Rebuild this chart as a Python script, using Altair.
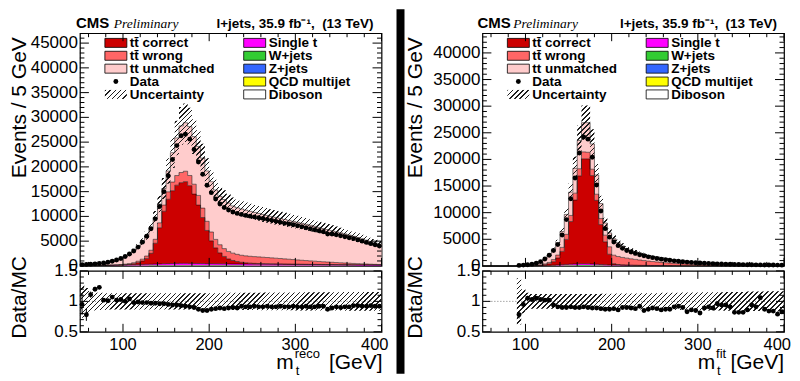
import math
import altair as alt
import pandas as pd

# ---------------------------------------------------------------- binning / labels
BIN_LO = list(range(50, 400, 5))          # 70 bins, 5 GeV wide
X_MIN, X_MAX = 50, 400
N = len(BIN_LO)

COMPONENTS = ["Diboson", "QCD multijet", "Z+jets", "W+jets", "Single t",
              "tt correct", "tt wrong", "tt unmatched"]
COMP_COLORS = ["#FFFFFF", "#FFFF00", "#3366FF", "#33CC33", "#FF00FF",
               "#CC0000", "#FF6666", "#FFCCCC"]

LEGEND_LABELS = ["tt\u0304 correct", "tt\u0304 wrong", "tt unmatched", "Data", "Uncertainty",
                 "Single t", "W+jets", "Z+jets", "QCD multijet", "Diboson"]
LEGEND_FILLS = ["#CC0000", "#FF6666", "#FFCCCC", "", "",
                "#FF00FF", "#33CC33", "#3366FF", "#FFFF00", "#FFFFFF"]

X_LABELS = [100, 200, 300, 400]
X_LABEL_TEXT = ["100", "200", "300", "400"]
X_MINOR = [60, 80, 120, 140, 160, 180, 220, 240, 260, 280, 320, 340, 360, 380]
R_LABELS = [0.5, 1.0, 1.5]
R_LABEL_TEXT = ["0.5", "1", "1.5"]
R_MINOR = [0.6, 0.7, 0.8, 0.9, 1.1, 1.2, 1.3, 1.4]
L_Y_LABELS = [0, 5000, 10000, 15000, 20000, 25000, 30000, 35000, 40000, 45000]
R_Y_LABELS = [0, 5000, 10000, 15000, 20000, 25000, 30000, 35000, 40000]

# ---------------------------------------------------------------- left panel (m_t^reco)
L_DATA = [250, 300, 350, 420, 500, 600, 750, 950, 1200, 1500,
          1900, 2400, 3000, 3800, 4800, 6000, 7500, 9500, 12000, 15000,
          18200, 21500, 24300, 26300, 26600, 25600, 23500, 21000, 18500, 16300,
          14800, 13500, 12500, 11800, 11300, 10900, 10600, 10400, 10200, 10050,
          9900, 9750, 9600, 9400, 9200, 9000, 8800, 8600, 8450, 8300,
          8100, 7900, 7700, 7500, 7300, 7100, 6900, 6450, 6450, 6300,
          6100, 5900, 5700, 5500, 5250, 5000, 4750, 4500, 4250, 4000]
L_TOTAL = [280, 320, 340, 370, 420, 560, 720, 900, 1170, 1460,
           1900, 2310, 3060, 3840, 4900, 6120, 7730, 9790, 12500, 15630,
           19160, 22870, 25850, 28280, 28910, 28130, 26110, 24140, 21760, 19180,
           17010, 15340, 14040, 13410, 12700, 12110, 11750, 11500, 11250, 11020,
           10800, 10600, 10400, 10200, 10000, 9800, 9600, 9400, 9200, 9000,
           8800, 8600, 8400, 8200, 8000, 7780, 7560, 7340, 7120, 6900,
           6680, 6460, 6230, 5980, 5730, 5470, 5200, 4930, 4650, 4380]
L_RED = [0, 0, 0, 0, 0, 5, 10, 15, 20, 30,
         50, 100, 200, 400, 700, 1200, 2200, 4200, 7300, 10600,
         13000, 14700, 15800, 16300, 16500, 15700, 14000, 11800, 9300, 6700,
         4600, 3200, 2200, 1500, 1000, 700, 500, 350, 260, 200,
         160, 140, 120, 110, 100, 90, 85, 80, 75, 70,
         65, 60, 55, 50, 48, 45, 42, 40, 38, 35,
         33, 30, 28, 26, 24, 22, 20, 18, 16, 15]
L_WRONG = [5, 8, 10, 15, 20, 30, 40, 60, 80, 100,
           130, 170, 220, 290, 380, 480, 620, 800, 1000, 1250,
           1500, 1750, 1950, 2050, 2100, 2050, 2000, 1950, 1900, 1850,
           1800, 1720, 1650, 1580, 1520, 1480, 1450, 1420, 1400, 1380,
           1360, 1330, 1290, 1250, 1200, 1150, 1100, 1040, 980, 920,
           860, 800, 750, 700, 650, 600, 550, 500, 460, 420,
           380, 340, 300, 270, 240, 210, 180, 150, 130, 110]
L_SINGLE_T = [20, 25, 30, 35, 40, 45, 55, 65, 75, 90,
              105, 120, 140, 160, 180, 205, 225, 250, 275, 300,
              320, 340, 355, 365, 370, 365, 355, 345, 335, 325,
              315, 305, 298, 290, 284, 279, 273, 268, 263, 259,
              255, 250, 246, 241, 236, 231, 226, 221, 216, 211,
              206, 201, 196, 191, 186, 181, 176, 171, 166, 161,
              156, 151, 146, 141, 136, 131, 126, 121, 116, 112]
L_WJETS = [10, 12, 14, 16, 18, 20, 24, 28, 32, 36,
           40, 45, 50, 55, 60, 65, 70, 75, 80, 85,
           90, 92, 94, 95, 95, 94, 92, 90, 88, 86,
           84, 82, 80, 78, 76, 74, 72, 70, 68, 66,
           64, 62, 60, 58, 57, 56, 55, 54, 53, 52,
           51, 50, 49, 48, 47, 46, 45, 44, 43, 42,
           41, 40, 39, 38, 37, 36, 35, 34, 33, 32]
L_ZJETS = [4, 5, 5, 6, 6, 7, 8, 9, 10, 11,
           12, 13, 14, 15, 16, 17, 18, 19, 20, 21,
           22, 22, 23, 23, 23, 22, 22, 21, 21, 20,
           20, 19, 19, 18, 18, 17, 17, 16, 16, 15,
           15, 15, 14, 14, 14, 13, 13, 13, 12, 12,
           12, 11, 11, 11, 11, 10, 10, 10, 10, 9,
           9, 9, 9, 8, 8, 8, 8, 8, 7, 7]
L_QCD = [8, 8, 9, 9, 10, 10, 11, 12, 13, 14,
         15, 16, 17, 18, 19, 20, 21, 22, 23, 24,
         25, 25, 26, 26, 26, 25, 25, 24, 24, 23,
         23, 22, 22, 21, 21, 20, 20, 19, 19, 18,
         18, 17, 17, 17, 16, 16, 16, 15, 15, 15,
         14, 14, 14, 13, 13, 13, 12, 12, 12, 12,
         11, 11, 11, 11, 10, 10, 10, 10, 10, 9]
L_DIBOSON = [1, 1, 1, 1, 1, 1, 1, 2, 2, 2,
             2, 2, 3, 3, 3, 3, 4, 4, 4, 4,
             4, 5, 5, 5, 5, 5, 5, 5, 5, 5,
             5, 5, 5, 4, 4, 4, 4, 4, 4, 4,
             4, 4, 4, 4, 3, 3, 3, 3, 3, 3,
             3, 3, 3, 3, 3, 3, 3, 2, 2, 2,
             2, 2, 2, 2, 2, 2, 2, 2, 2, 2]
L_UNC = [0.27, 0.22, 0.17, 0.15, 0.14, 0.14, 0.135, 0.135, 0.135, 0.135,
         0.135, 0.135, 0.135, 0.135, 0.135, 0.135, 0.135, 0.135, 0.135, 0.135,
         0.135, 0.135, 0.135, 0.135, 0.135, 0.135, 0.135, 0.135, 0.135, 0.135,
         0.135, 0.135, 0.135, 0.14, 0.14, 0.14, 0.14, 0.14, 0.14, 0.14,
         0.14, 0.14, 0.145, 0.145, 0.145, 0.145, 0.145, 0.145, 0.145, 0.145,
         0.15, 0.15, 0.15, 0.15, 0.15, 0.15, 0.15, 0.15, 0.15, 0.15,
         0.15, 0.155, 0.155, 0.155, 0.155, 0.155, 0.155, 0.155, 0.155, 0.155]
L_RATIO = [0.95, 0.78, 1.11, 1.20, 1.23, 1.02, 1.01, 1.07, 1.02, 1.03,
           1.00, 1.04, 0.98, 0.99, 0.98, 0.98, 0.97, 0.97, 0.96, 0.96,
           0.95, 0.94, 0.94, 0.93, 0.92, 0.91, 0.90, 0.87, 0.85, 0.85,
           0.87, 0.88, 0.89, 0.88, 0.89, 0.90, 0.89, 0.92, 0.91, 0.91,
           0.92, 0.91, 0.91, 0.92, 0.91, 0.91, 0.92, 0.91, 0.91, 0.92,
           0.91, 0.91, 0.92, 0.91, 0.91, 0.92, 0.92, 0.87, 0.89, 0.91,
           0.90, 0.91, 0.91, 0.93, 0.93, 0.92, 0.92, 0.93, 0.92, 0.92]
L_RATIO_ERR = [0.17, 0.10, 0.05, 0.04, 0.03, 0.03, 0.02, 0.02, 0.02, 0.015,
               0.01, 0.01, 0.01, 0.01, 0.01, 0.01, 0.01, 0.01, 0.01, 0.01,
               0.01, 0.01, 0.01, 0.01, 0.01, 0.01, 0.01, 0.01, 0.01, 0.01,
               0.01, 0.01, 0.01, 0.01, 0.01, 0.01, 0.01, 0.01, 0.01, 0.01,
               0.01, 0.01, 0.01, 0.01, 0.01, 0.01, 0.01, 0.01, 0.01, 0.01,
               0.01, 0.01, 0.01, 0.01, 0.01, 0.01, 0.01, 0.01, 0.01, 0.01,
               0.01, 0.01, 0.01, 0.01, 0.01, 0.01, 0.01, 0.01, 0.01, 0.01]

# ---------------------------------------------------------------- right panel (m_t^fit)
R_DATA = [None, None, None, None, None, None, None, None,
          100, 150, 220, 330, 500, 800, 1300, 2000, 2900, 4000,
          5800, 8700, 12600, 16500, 21200, 24200, 23800, 20400, 15200, 10300,
          7000, 5400, 4500, 3800, 3300, 2900, 2600, 2350, 2100, 1900,
          1700, 1550, 1400, 1270, 1150, 1050, 950, 870, 790, 720,
          660, 600, 550, 500, 460, 420, 390, 360, 330, 305,
          285, 265, 245, 230, 215, 200, 190, 180, 170, 160,
          150, 140]
R_TOTAL = [0, 0, 0, 0, 0, 0, 0, 0,
           130, 160, 210, 320, 480, 780, 1270, 1960, 3080, 4400,
           6450, 9670, 13850, 18330, 23560, 26900, 26900, 22900, 17080, 11700,
           8050, 6200, 5100, 4350, 3750, 3280, 2930, 2640, 2390, 2170,
           1970, 1790, 1630, 1490, 1360, 1240, 1130, 1030, 940, 860,
           790, 720, 660, 610, 560, 515, 475, 440, 405, 375,
           350, 325, 300, 280, 262, 245, 230, 215, 202, 190,
           180, 170]
R_RED = [0, 0, 0, 0, 0, 0, 0, 0,
         0, 0, 5, 10, 25, 60, 150, 300, 650, 1300,
         2500, 4700, 8000, 12000, 16500, 19700, 19700, 16600, 12000, 7500,
         4300, 2000, 250, 120, 60, 40, 30, 25, 20, 18,
         16, 14, 12, 10, 9, 8, 7, 6, 5, 5,
         4, 4, 4, 3, 3, 3, 3, 2, 2, 2,
         2, 2, 2, 1, 1, 1, 1, 1, 1, 1,
         1, 1]
R_WRONG = [0, 0, 0, 0, 0, 0, 0, 0,
           10, 15, 25, 40, 60, 100, 160, 250, 400, 550,
           750, 950, 1150, 1300, 1350, 1300, 1250, 1200, 1150, 1150,
           1250, 1400, 1600, 1500, 1400, 1300, 1200, 1100, 1000, 900,
           820, 740, 670, 600, 540, 480, 430, 385, 345, 310,
           275, 245, 220, 195, 175, 155, 140, 125, 112, 100,
           90, 80, 72, 65, 58, 52, 47, 42, 38, 34,
           31, 28]
R_SINGLE_T = [0, 0, 0, 0, 0, 0, 0, 0,
              5, 6, 8, 12, 18, 28, 40, 60, 85, 110,
              140, 170, 200, 225, 245, 250, 240, 220, 190, 160,
              135, 115, 100, 90, 80, 72, 65, 59, 54, 49,
              45, 41, 38, 35, 32, 29, 27, 25, 23, 21,
              19, 18, 17, 16, 15, 14, 13, 12, 11, 10,
              10, 9, 9, 8, 8, 7, 7, 6, 6, 6,
              5, 5]
R_WJETS = [0, 0, 0, 0, 0, 0, 0, 0,
           2, 2, 3, 5, 7, 11, 16, 24, 34, 44,
           56, 68, 80, 90, 98, 100, 96, 88, 76, 64,
           54, 46, 40, 36, 32, 29, 26, 24, 22, 20,
           18, 16, 15, 14, 13, 12, 11, 10, 9, 9,
           8, 8, 7, 7, 6, 6, 6, 5, 5, 5,
           4, 4, 4, 4, 3, 3, 3, 3, 3, 3,
           2, 2]
R_ZJETS = [0, 0, 0, 0, 0, 0, 0, 0,
           1, 1, 1, 1, 2, 3, 4, 6, 8, 11,
           14, 17, 20, 22, 24, 25, 24, 22, 19, 16,
           13, 11, 10, 9, 8, 7, 6, 6, 5, 5,
           4, 4, 4, 3, 3, 3, 3, 2, 2, 2,
           2, 2, 2, 2, 1, 1, 1, 1, 1, 1,
           1, 1, 1, 1, 1, 1, 1, 1, 1, 1,
           1, 1]
R_QCD = [0, 0, 0, 0, 0, 0, 0, 0,
         1, 1, 2, 2, 3, 4, 6, 8, 10, 13,
         16, 19, 22, 24, 26, 27, 26, 24, 21, 18,
         15, 13, 11, 10, 9, 8, 7, 6, 6, 5,
         5, 4, 4, 4, 3, 3, 3, 3, 2, 2,
         2, 2, 2, 2, 2, 2, 1, 1, 1, 1,
         1, 1, 1, 1, 1, 1, 1, 1, 1, 1,
         1, 1]
R_DIBOSON = [0, 0, 0, 0, 0, 0, 0, 0,
             0, 0, 0, 0, 0, 1, 1, 1, 2, 2,
             3, 3, 4, 4, 5, 5, 5, 4, 4, 3,
             3, 2, 2, 2, 2, 1, 1, 1, 1, 1,
             1, 1, 1, 1, 1, 1, 1, 1, 1, 1,
             0, 0, 0, 0, 0, 0, 0, 0, 0, 0,
             0, 0, 0, 0, 0, 0, 0, 0, 0, 0,
             0, 0]
R_UNC = [0, 0, 0, 0, 0, 0, 0, 0,
         0.38, 0.20, 0.14, 0.12, 0.12, 0.12, 0.12, 0.12, 0.12, 0.12,
         0.12, 0.12, 0.12, 0.12, 0.12, 0.12, 0.12, 0.12, 0.12, 0.125,
         0.125, 0.125, 0.125, 0.13, 0.13, 0.13, 0.13, 0.13, 0.135, 0.135,
         0.135, 0.135, 0.135, 0.14, 0.14, 0.14, 0.14, 0.14, 0.145, 0.145,
         0.145, 0.145, 0.145, 0.15, 0.15, 0.15, 0.15, 0.15, 0.155, 0.155,
         0.155, 0.155, 0.155, 0.16, 0.16, 0.16, 0.16, 0.16, 0.165, 0.165,
         0.165, 0.165]
R_RATIO = [None, None, None, None, None, None, None, None,
           0.78, 0.95, 1.05, 1.03, 1.05, 1.03, 1.02, 1.02, 0.94, 0.91,
           0.90, 0.90, 0.91, 0.90, 0.90, 0.91, 0.90, 0.89, 0.89, 0.88,
           0.87, 0.87, 0.88, 0.86, 0.90, 0.90, 0.89, 0.88, 0.92, 0.85,
           0.87, 0.89, 0.88, 0.86, 0.87, 0.87, 0.91, 0.92, 0.90, 0.83,
           0.86, 0.85, 0.81, 0.89, 0.91, 0.89, 0.96, 0.94, 0.94, 0.91,
           0.82, 0.82, 0.82, 0.86, 0.94, 0.91, 1.06, 0.87, 0.84, 0.84,
           0.79, 0.83]
R_RATIO_ERR = [0, 0, 0, 0, 0, 0, 0, 0,
               0.06, 0.05, 0.04, 0.03, 0.02, 0.02, 0.01, 0.01, 0.01, 0.01,
               0.01, 0.01, 0.01, 0.01, 0.01, 0.01, 0.01, 0.01, 0.01, 0.01,
               0.01, 0.01, 0.01, 0.01, 0.01, 0.01, 0.01, 0.01, 0.01, 0.01,
               0.01, 0.01, 0.01, 0.01, 0.01, 0.01, 0.01, 0.01, 0.01, 0.01,
               0.01, 0.01, 0.01, 0.01, 0.01, 0.01, 0.01, 0.01, 0.01, 0.01,
               0.01, 0.01, 0.01, 0.01, 0.01, 0.01, 0.01, 0.01, 0.01, 0.01,
               0.01, 0.01]

for arr in [L_DATA, L_TOTAL, L_RED, L_WRONG, L_SINGLE_T, L_WJETS, L_ZJETS, L_QCD, L_DIBOSON,
            L_UNC, L_RATIO, L_RATIO_ERR, R_DATA, R_TOTAL, R_RED, R_WRONG, R_SINGLE_T, R_WJETS,
            R_ZJETS, R_QCD, R_DIBOSON, R_UNC, R_RATIO, R_RATIO_ERR]:
    assert len(arr) == N, len(arr)

# ---------------------------------------------------------------- styling
FONT = "Liberation Sans"
W = 302
H_TOP = 233
H_RAT = 61
XS = alt.Scale(domain=[X_MIN, X_MAX], nice=False, zero=False)
RS = alt.Scale(domain=[0.5, 1.5], nice=False, zero=False)


def hatch(w, h, spacing=3.5, lw=1.0, color="#1e1e1e"):
    """Linear gradient made of hard stops -> '////' hatching over a box w x h px."""
    r = h / w
    c = (1 + r) / (1 + r * r)
    n = max(1, int(round((w + h) / (spacing * math.sqrt(2)))))
    f = lw / spacing
    clear = "rgba(255,255,255,0)"
    stops = []
    for i in range(n):
        a, b, e = i / n, (i + f) / n, (i + 1) / n
        stops += [alt.GradientStop(offset=round(a, 6), color=color),
                  alt.GradientStop(offset=round(b, 6), color=color),
                  alt.GradientStop(offset=round(b, 6), color=clear),
                  alt.GradientStop(offset=round(e, 6), color=clear)]
    return alt.LinearGradient(gradient="linear", stops=stops, x1=0, y1=0, x2=c, y2=c * r)


def one(text=""):
    return alt.Chart(pd.DataFrame({"t": [text]}))


def label(s, x, y, size, align="left", weight="normal", style="normal", font=FONT,
          baseline="alphabetic", angle=0):
    return one(s).mark_text(align=align, baseline=baseline, fontSize=size, fontWeight=weight,
                            fontStyle=style, font=font, color="black", angle=angle).encode(
        text="t:N", x=alt.value(x), y=alt.value(y))


def xticks(height, major, minor, lmaj=8, lmin=4):
    out = []
    for vals, L in ((major, lmaj), (minor, lmin)):
        base = alt.Chart(pd.DataFrame({"v": vals})).mark_rule(color="black", strokeWidth=1)
        out.append(base.encode(x=alt.X("v:Q", scale=XS, axis=None, title=None),
                               y=alt.value(height), y2=alt.value(height - L)))
        out.append(base.encode(x=alt.X("v:Q", scale=XS, axis=None, title=None),
                               y=alt.value(0), y2=alt.value(L)))
    return out


def yticks(scale, major, minor, lmaj=9, lmin=4.5):
    out = []
    for vals, L in ((major, lmaj), (minor, lmin)):
        base = alt.Chart(pd.DataFrame({"v": vals})).mark_rule(color="black", strokeWidth=1)
        out.append(base.encode(y=alt.Y("v:Q", scale=scale, axis=None, title=None),
                               x=alt.value(0), x2=alt.value(L)))
        out.append(base.encode(y=alt.Y("v:Q", scale=scale, axis=None, title=None),
                               x=alt.value(W), x2=alt.value(W - L)))
    return out


def ylabels(scale, vals, texts, size=17):
    df = pd.DataFrame({"v": vals, "s": texts})
    return alt.Chart(df).mark_text(align="right", baseline="middle", fontSize=size, font=FONT,
                                   color="black").encode(
        y=alt.Y("v:Q", scale=scale, axis=None, title=None), x=alt.value(-2), text="s:N")


def xlabels(size=16.5):
    df = pd.DataFrame({"v": X_LABELS, "s": X_LABEL_TEXT})
    inner = alt.Chart(df.iloc[:-1]).mark_text(align="center", baseline="top", fontSize=size, font=FONT,
                                              color="black").encode(
        x=alt.X("v:Q", scale=XS, axis=None, title=None), y=alt.value(H_RAT + 5), text="s:N")
    last = alt.Chart(df.iloc[-1:]).mark_text(align="right", baseline="top", fontSize=size, font=FONT,
                                             color="black", dx=7).encode(
        x=alt.X("v:Q", scale=XS, axis=None, title=None), y=alt.value(H_RAT + 5), text="s:N")
    return [inner, last]


def legend_layers(col_x):
    bw, bh = 22, 9
    rows = []
    for i, (lab, fill) in enumerate(zip(LEGEND_LABELS, LEGEND_FILLS)):
        col, row = divmod(i, 5)
        cy = 9.7 + 12.9 * row
        x0 = col_x[col]
        rows.append({"lab": lab, "fill": fill, "x0": x0, "x1": x0 + bw, "y0": cy - bh / 2,
                     "y1": cy + bh / 2, "tx": x0 + bw + 3, "ty": cy + 0.5, "cx": x0 + bw / 2, "cy": cy})
    df = pd.DataFrame(rows)
    boxes = alt.Chart(df[df["fill"] != ""]).mark_rect(stroke="black", strokeWidth=0.8, opacity=1).encode(
        x=alt.X("x0:Q", scale=None, axis=None), x2="x1:Q",
        y=alt.Y("y0:Q", scale=None, axis=None), y2="y1:Q",
        fill=alt.Fill("fill:N", scale=None))
    texts = alt.Chart(df).mark_text(align="left", baseline="middle", fontSize=13.5, fontWeight="bold",
                                    font=FONT, color="black").encode(
        x=alt.X("tx:Q", scale=None, axis=None), y=alt.Y("ty:Q", scale=None, axis=None), text="lab:N")
    d = df[df["lab"] == "Data"].iloc[0]
    u = df[df["lab"] == "Uncertainty"].iloc[0]
    dot = one().mark_circle(size=24, color="black", opacity=1).encode(
        x=alt.value(float(d["cx"])), y=alt.value(float(d["cy"])))
    hat = one().mark_rect(fill=hatch(bw, bh), opacity=1, strokeWidth=0).encode(
        x=alt.value(float(u["x0"])), x2=alt.value(float(u["x1"])),
        y=alt.value(float(u["y0"])), y2=alt.value(float(u["y1"])))
    return [boxes, hat, dot, texts]


def panel(p):
    ys = alt.Scale(domain=[0, p["ymax"]], nice=False, zero=False)
    others = [p["diboson"], p["qcd"], p["zjets"], p["wjets"], p["single_t"], p["red"], p["wrong"]]
    unmatched = [max(0.0, t - sum(o[i] for o in others)) for i, t in enumerate(p["total"])]
    series = others + [unmatched]

    rows, base = [], [0.0] * N
    for name, vals in zip(COMPONENTS, series):
        top = [b + v for b, v in zip(base, vals)]
        for x, b, t in zip(BIN_LO + [X_MAX], base + [base[-1]], top + [top[-1]]):
            rows.append({"x": x, "base": b, "top": t, "comp": name})
        base = top
    sdf = pd.DataFrame(rows)

    areas = alt.Chart(sdf).mark_area(interpolate="step-after", opacity=1, strokeWidth=0).encode(
        x=alt.X("x:Q", scale=XS, axis=None, title=None),
        y=alt.Y("base:Q", scale=ys, axis=None, title=None, stack=None),
        y2="top:Q",
        color=alt.Color("comp:N", scale=alt.Scale(domain=COMPONENTS, range=COMP_COLORS), legend=None))
    outlines = alt.Chart(sdf[sdf["comp"].isin(["tt correct", "tt wrong", "tt unmatched", "Single t"])]).mark_line(
        interpolate="step-after", color="black", strokeWidth=0.6, opacity=0.85).encode(
        x=alt.X("x:Q", scale=XS, axis=None, title=None),
        y=alt.Y("top:Q", scale=ys, axis=None, title=None), detail="comp:N")

    idx = [i for i in range(N) if p["total"][i] > 0]
    bx = [BIN_LO[i] for i in idx] + [X_MAX]
    lo = [p["total"][i] * (1 - p["unc"][i]) for i in idx]
    hi = [p["total"][i] * (1 + p["unc"][i]) for i in idx]
    bdf = pd.DataFrame({"x": bx, "lo": lo + [lo[-1]], "hi": hi + [hi[-1]]})
    bw = W * (bx[-1] - bx[0]) / (X_MAX - X_MIN)
    bh = H_TOP * (max(hi) - min(lo)) / p["ymax"]
    band = alt.Chart(bdf).mark_area(interpolate="step-after", fill=hatch(bw, bh), opacity=1,
                                    strokeWidth=0).encode(
        x=alt.X("x:Q", scale=XS, axis=None, title=None),
        y=alt.Y("lo:Q", scale=ys, axis=None, title=None), y2="hi:Q")

    ddf = pd.DataFrame({"xc": [b + 2.5 for b in BIN_LO], "d": p["data"]}).dropna()
    points = alt.Chart(ddf).mark_circle(size=24, color="black", opacity=1).encode(
        x=alt.X("xc:Q", scale=XS, axis=None, title=None),
        y=alt.Y("d:Q", scale=ys, axis=None, title=None))

    ymin_minor = [v for v in range(1000, int(p["ymax"]), 1000) if v % 5000]
    header = [
        label("CMS", p["cms_x"], -5, 15, weight="bold"),
        label("Preliminary", p["prelim_x"], -5, 13.5, style="italic", font="Liberation Serif"),
        label("l+jets, 35.9 fb\u207b\u00b9,\u00a0 (13 TeV)", p["lumi_x"], -5, 13.5, align="right",
              weight="bold"),
    ]
    ytitle = label("Events / 5 GeV", p["ytitle_x"], 4, 21, align="right", angle=270)
    extra = p.get("extra_top", [])
    top_layers = ([areas, outlines, band, points] + legend_layers(p["legend_x"]) + header
                  + [ylabels(ys, p["ylabels"], [str(v) for v in p["ylabels"]]), ytitle]
                  + xticks(H_TOP, X_LABELS, X_MINOR)
                  + yticks(ys, [v for v in p["ylabels"] if v > 0], ymin_minor) + extra)
    top = alt.layer(*top_layers).properties(width=W, height=H_TOP)

    # ---------------- ratio
    ridx = [i for i in range(N) if p["total"][i] > 0]
    rbx = [BIN_LO[i] for i in ridx] + [X_MAX]
    rlo = [1 - p["unc"][i] for i in ridx]
    rhi = [1 + p["unc"][i] for i in ridx]
    rbdf = pd.DataFrame({"x": rbx, "rlo": rlo + [rlo[-1]], "rhi": rhi + [rhi[-1]]})
    rbw = W * (rbx[-1] - rbx[0]) / (X_MAX - X_MIN)
    rbh = H_RAT * (max(rhi) - min(rlo)) / 1.0
    unity = alt.Chart(pd.DataFrame({"one": [1.0]})).mark_rule(color="#777777", strokeDash=[1, 2],
                                                              strokeWidth=1).encode(
        y=alt.Y("one:Q", scale=RS, axis=None, title=None), x=alt.value(0), x2=alt.value(W))
    rband = alt.Chart(rbdf).mark_area(interpolate="step-after", fill=hatch(rbw, rbh), opacity=1,
                                      strokeWidth=0).encode(
        x=alt.X("x:Q", scale=XS, axis=None, title=None),
        y=alt.Y("rlo:Q", scale=RS, axis=None, title=None), y2="rhi:Q")
    rdf = pd.DataFrame({"xc": [b + 2.5 for b in BIN_LO], "r": p["ratio"], "e": p["ratio_err"]}).dropna()
    rdf["elo"] = rdf["r"] - rdf["e"]
    rdf["ehi"] = rdf["r"] + rdf["e"]
    rerr = alt.Chart(rdf[rdf["e"] >= 0.02]).mark_rule(color="black", strokeWidth=1).encode(
        x=alt.X("xc:Q", scale=XS, axis=None, title=None),
        y=alt.Y("elo:Q", scale=RS, axis=None, title=None), y2="ehi:Q")
    rpts = alt.Chart(rdf).mark_circle(size=24, color="black", opacity=1).encode(
        x=alt.X("xc:Q", scale=XS, axis=None, title=None),
        y=alt.Y("r:Q", scale=RS, axis=None, title=None))
    xtitle = [
        label("m", p["m_right"], H_RAT + 37.5, 21, align="right"),
        label(p["sup"], p["m_right"] + 1, H_RAT + 26, 13),
        label("t", p["m_right"] + 2, H_RAT + 43, 13),
        label("[GeV]", p["unit_right"], H_RAT + 37.5, 21, align="right"),
    ]
    rtitle = label("Data/MC", p["ytitle_x"], 26.5, 21, align="center", angle=270)
    ratio = alt.layer(unity, rband, rerr, rpts, *xtitle, rtitle,
                      ylabels(RS, R_LABELS, R_LABEL_TEXT), *xlabels(),
                      *xticks(H_RAT, X_LABELS, X_MINOR),
                      *yticks(RS, R_LABELS, R_MINOR, 8, 4)).properties(width=W, height=H_RAT)
    return top, ratio


# decorations of the left-top cell: page separator and bounds anchor
separator = one().mark_rect(color="black", opacity=1).encode(
    x=alt.value(317), x2=alt.value(325), y=alt.value(-24), y2=alt.value(341))
anchor = one().mark_rule(opacity=0).encode(
    x=alt.value(-71), x2=alt.value(-70), y=alt.value(-24), y2=alt.value(-24))

left = dict(data=L_DATA, total=L_TOTAL, red=L_RED, wrong=L_WRONG, single_t=L_SINGLE_T,
            wjets=L_WJETS, zjets=L_ZJETS, qcd=L_QCD, diboson=L_DIBOSON, unc=L_UNC,
            ratio=L_RATIO, ratio_err=L_RATIO_ERR, ymax=47000, ylabels=L_Y_LABELS,
            ytitle_x=-54, cms_x=-4, prelim_x=34, lumi_x=294, legend_x=(25, 164),
            m_right=214, sup="reco", unit_right=303, extra_top=[separator, anchor])
right = dict(data=R_DATA, total=R_TOTAL, red=R_RED, wrong=R_WRONG, single_t=R_SINGLE_T,
             wjets=R_WJETS, zjets=R_ZJETS, qcd=R_QCD, diboson=R_DIBOSON, unc=R_UNC,
             ratio=R_RATIO, ratio_err=R_RATIO_ERR, ymax=43700, ylabels=R_Y_LABELS,
             ytitle_x=-60, cms_x=-5, prelim_x=31, lumi_x=295, legend_x=(25, 164),
             m_right=233, sup="fit", unit_right=302)

lt, lr = panel(left)
rt, rr = panel(right)

chart = alt.concat(lt, rt, lr, rr, columns=2, spacing={"row": 5, "column": 101},
                   bounds="flush").properties(padding=0, background="white").configure_view(
    stroke="black", strokeWidth=1.2)

chart.save("out.html", embed_options={"renderer": "svg", "actions": False})
